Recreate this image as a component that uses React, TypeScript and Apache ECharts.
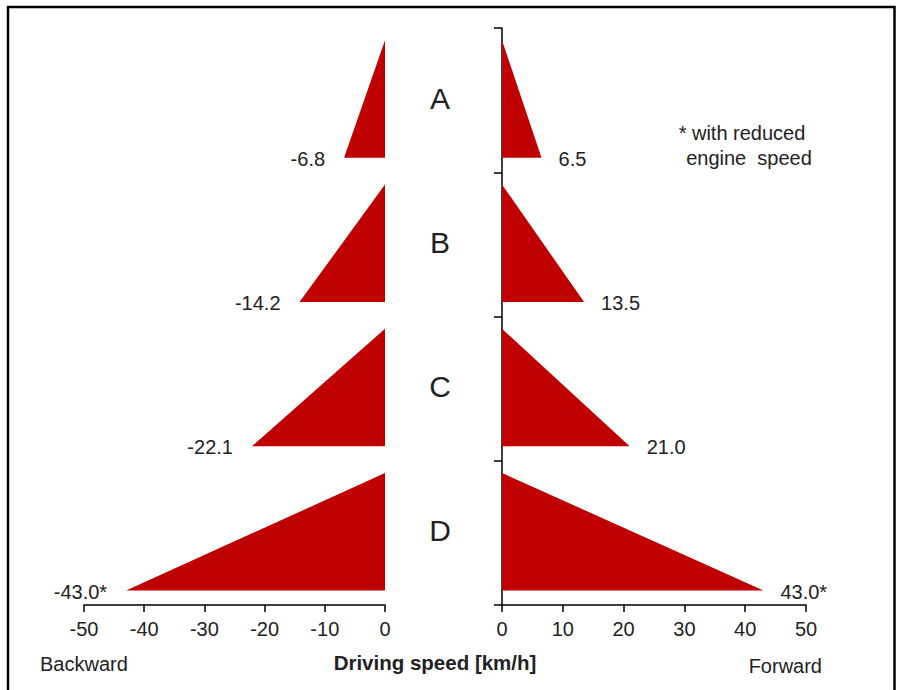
import React, { useEffect, useRef } from "react";
import * as echarts from "echarts";

// ---- data ----
const gears = ["A", "B", "C", "D"];
const gearBand = [3, 2, 1, 0];
const backwardSpeed = [-6.8, -14.2, -22.1, -43.0];
const forwardSpeed = [6.5, 13.5, 21.0, 43.0];
const reducedEngine = [false, false, false, true];
const xTicksLeft = { min: -50, max: 0, interval: 10 };
const xTicksRight = { min: 0, max: 50, interval: 10 };

const RED = "#C00000";
const TEXT = "#222222";
const FONT = "'Liberation Sans', Arial, sans-serif";
const TRI_TOP = 0.915;
const TRI_BOTTOM = 0.1;

function fmt(v: number, i: number) {
  return v.toFixed(1) + (reducedEngine[i] ? "*" : "");
}

function makeRender(values: number[], withLetters: boolean) {
  return (params: any, api: any) => {
    const i = params.dataIndex;
    const band = api.value(0);
    const v = api.value(1);
    const pTop = api.coord([0, band + TRI_TOP]);
    const pBot0 = api.coord([0, band + TRI_BOTTOM]);
    const pBotV = api.coord([v, band + TRI_BOTTOM]);
    const children: any[] = [
      {
        type: "polygon",
        shape: { points: [pTop, pBotV, pBot0] },
        style: { fill: RED },
      },
      {
        type: "text",
        x: pBotV[0] + (v < 0 ? -19 : 17),
        y: pBotV[1] + 1,
        style: {
          text: fmt(values[i], i),
          align: v < 0 ? "right" : "left",
          verticalAlign: "middle",
          fontSize: 20,
          fontFamily: FONT,
          fill: TEXT,
        },
      },
    ];
    if (withLetters) {
      const pMid = api.coord([0, band + 0.5]);
      children.push({
        type: "text",
        x: pMid[0] - 62,
        y: pMid[1] - 2,
        style: {
          text: gears[i],
          align: "center",
          verticalAlign: "middle",
          fontSize: 30,
          fontFamily: FONT,
          fill: TEXT,
        },
      });
    }
    return { type: "group", children };
  };
}

const axisLabelStyle = {
  fontSize: 20,
  fontFamily: FONT,
  color: TEXT,
  margin: 14,
};

export default function App() {
  const ref = useRef<HTMLDivElement>(null);
  useEffect(() => {
    document.body.style.margin = "0";
    if (!ref.current) return;
    const chart = echarts.init(ref.current, undefined, { renderer: "svg" });
    chart.setOption({
      animation: false,
      backgroundColor: "#ffffff",
      grid: [
        { left: 84, width: 301, top: 28, height: 577 },
        { left: 502, width: 304, top: 28, height: 577 },
      ],
      xAxis: [
        {
          gridIndex: 0,
          type: "value",
          ...xTicksLeft,
          axisLine: { show: true, onZero: false, lineStyle: { color: "#000", width: 1.5 } },
          axisTick: { show: true, length: 7, lineStyle: { color: "#000", width: 1.5 } },
          axisLabel: axisLabelStyle,
          splitLine: { show: false },
        },
        {
          gridIndex: 1,
          type: "value",
          ...xTicksRight,
          axisLine: { show: true, onZero: false, lineStyle: { color: "#000", width: 1.5 } },
          axisTick: { show: true, length: 7, lineStyle: { color: "#000", width: 1.5 } },
          axisLabel: axisLabelStyle,
          splitLine: { show: false },
        },
      ],
      yAxis: [
        {
          gridIndex: 0,
          type: "value",
          min: 0,
          max: 4,
          interval: 1,
          axisLine: { show: false },
          axisTick: { show: false },
          axisLabel: { show: false },
          splitLine: { show: false },
        },
        {
          gridIndex: 1,
          type: "value",
          min: 0,
          max: 4,
          interval: 1,
          axisLine: { show: true, onZero: false, lineStyle: { color: "#000", width: 1.5 } },
          axisTick: { show: true, length: 8, lineStyle: { color: "#000", width: 1.5 } },
          axisLabel: { show: false },
          splitLine: { show: false },
        },
      ],
      series: [
        {
          type: "custom",
          xAxisIndex: 0,
          yAxisIndex: 0,
          clip: false,
          data: gearBand.map((b, i) => [b, backwardSpeed[i]]),
          renderItem: makeRender(backwardSpeed, false),
        },
        {
          type: "custom",
          xAxisIndex: 1,
          yAxisIndex: 1,
          clip: false,
          data: gearBand.map((b, i) => [b, forwardSpeed[i]]),
          renderItem: makeRender(forwardSpeed, true),
        },
      ],
      graphic: [
        {
          type: "polyline",
          shape: { points: [[8, 700], [8, 7], [894.5, 7], [894.5, 700]] },
          style: { stroke: "#000", lineWidth: 2.5, fill: "none" },
          silent: true,
        },
        {
          type: "text",
          x: 40,
          y: 664,
          style: { text: "Backward", align: "left", verticalAlign: "middle", fontSize: 20, fontFamily: FONT, fill: TEXT },
        },
        {
          type: "text",
          x: 435,
          y: 662,
          style: { text: "Driving speed [km/h]", align: "center", verticalAlign: "middle", fontSize: 20.5, fontWeight: "bold", fontFamily: FONT, fill: TEXT },
        },
        {
          type: "text",
          x: 822,
          y: 666,
          style: { text: "Forward", align: "right", verticalAlign: "middle", fontSize: 20, fontFamily: FONT, fill: TEXT },
        },
        {
          type: "text",
          x: 742,
          y: 133,
          style: { text: "* with reduced", align: "center", verticalAlign: "middle", fontSize: 20, fontFamily: FONT, fill: TEXT },
        },
        {
          type: "text",
          x: 749,
          y: 158,
          style: { text: "engine  speed", align: "center", verticalAlign: "middle", fontSize: 20, fontFamily: FONT, fill: TEXT },
        },
      ],
    });
    return () => chart.dispose();
  }, []);
  return <div ref={ref} style={{ width: 902, height: 690 }} />;
}
